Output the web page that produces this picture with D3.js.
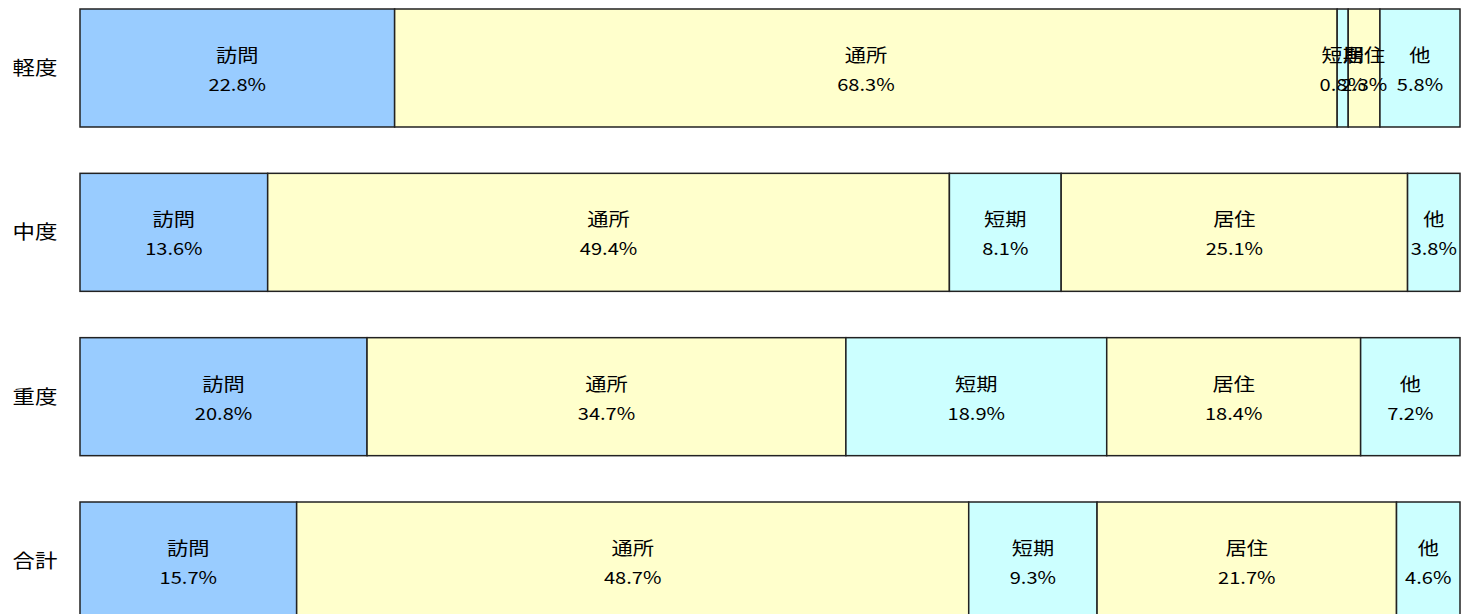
<!DOCTYPE html>
<html>
<head>
<meta charset="utf-8">
<script src="https://cdn.jsdelivr.net/npm/d3@7"></script>
<style>
    body { margin: 0; background: #fff; }
    text { font-family: "Noto Sans CJK JP", "Noto Sans", sans-serif; fill: #000; }
</style>
</head>
<body>
<script>
(function(){

    //data
    var rows = ["軽度", "中度", "重度", "合計"];
    var services = ["訪問", "通所", "短期", "居住", "他"];
    var mild = [22.8, 68.3, 0.8, 2.3, 5.8];
    var moderate = [13.6, 49.4, 8.1, 25.1, 3.8];
    var severe = [20.8, 34.7, 18.9, 18.4, 7.2];
    var total = [15.7, 48.7, 9.3, 21.7, 4.6];
    var values = [mild, moderate, severe, total];

    var colors = ["#99CCFF", "#FFFFCC", "#CCFFFF", "#FFFFCC", "#CCFFFF"];

    window.onload = drawChart();

    function drawChart(){

        var width = 1469,
            height = 614;

        var svg = d3.select("body")
            .append("svg")
            .attr("width", width)
            .attr("height", height);

        //horizontal percent scale
        var x = d3.scaleLinear()
            .domain([0, 100])
            .range([80, 1460]);

        //one band per row
        var y = d3.scaleBand()
            .domain(rows)
            .range([9, 620])
            .paddingInner(0.282)
            .paddingOuter(0);

        //build stacked segments
        var segs = [];
        values.forEach(function(vals, i){
            var acc = 0;
            vals.forEach(function(v, j){
                segs.push({row: rows[i], name: services[j], v: v, x0: acc, x1: acc + v, k: j});
                acc += v;
            });
        });

        //row labels
        svg.selectAll(".rowLabel")
            .data(rows)
            .enter()
            .append("text")
            .attr("class", "rowLabel")
            .attr("text-anchor", "middle")
            .attr("font-size", 19)
            .attr("transform", function(d){
                return "translate(35," + (y(d) + y.bandwidth() / 2 + 7) + ") scale(1.18,1)";
            })
            .text(function(d){ return d; });

        //segments
        svg.selectAll(".seg")
            .data(segs)
            .enter()
            .append("rect")
            .attr("class", "seg")
            .attr("x", function(d){ return x(d.x0); })
            .attr("y", function(d){ return y(d.row); })
            .attr("width", function(d){ return x(d.x1) - x(d.x0); })
            .attr("height", y.bandwidth())
            .attr("fill", function(d){ return colors[d.k]; })
            .attr("stroke", "#222")
            .attr("stroke-width", 1.5);

        //segment labels, drawn after all rects
        var labels = svg.selectAll(".segLabel")
            .data(segs)
            .enter()
            .append("g")
            .attr("class", "segLabel")
            .attr("transform", function(d){
                return "translate(" + ((x(d.x0) + x(d.x1)) / 2) + "," + (y(d.row) + y.bandwidth() / 2) + ") scale(1.18,1)";
            });

        labels.append("text")
            .attr("text-anchor", "middle")
            .attr("font-size", 18)
            .attr("y", -6)
            .text(function(d){ return d.name; });

        labels.append("text")
            .attr("text-anchor", "middle")
            .attr("font-size", 17)
            .attr("y", 23)
            .text(function(d){ return d.v.toFixed(1) + "%"; });
    };

})();
</script>
</body>
</html>
